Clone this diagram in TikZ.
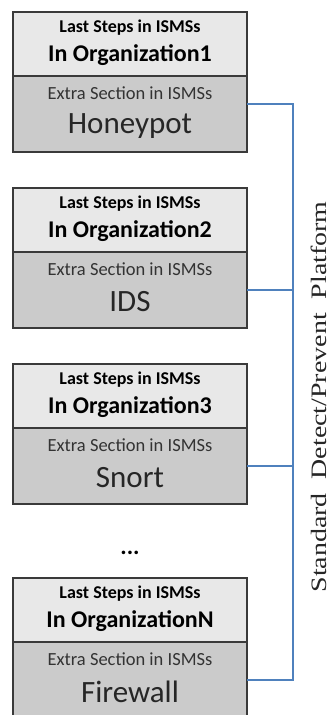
\documentclass[tikz,border=0pt]{standalone}
\usepackage{fontspec}
\setmainfont{Carlito}
\newfontfamily\platformfont{Liberation Serif}
\usetikzlibrary{positioning}

\definecolor{boxline}{HTML}{3A3A3A}
\definecolor{topgray}{HTML}{E8E8E8}
\definecolor{lowgray}{HTML}{CBCBCB}
\definecolor{railblue}{HTML}{4F81BD}

\begin{document}
\begin{tikzpicture}
		[x=1pt, y=-1pt,
		orgbox/.style={rectangle, draw=boxline, line width=1.4pt, fill=topgray, minimum width=234pt, minimum height=64pt, inner sep=0pt, outer sep=0pt},
		extbox/.style={orgbox, fill=lowgray, minimum height=76pt},
		steptext/.style={font=\fontsize{18}{20}\selectfont\bfseries},
		orgtext/.style={font=\fontsize{24}{26}\selectfont\bfseries},
		sectext/.style={font=\fontsize{18.5}{20}\selectfont, text=black!80},
		tooltext/.style={font=\fontsize{31}{33}\selectfont, text=black!85},
		link/.style={draw=railblue, line width=1.2pt}]
		\useasboundingbox (0,0) rectangle (332,715);

		\node[orgbox] (org1) at (130,44) {};
		\node[extbox, below=0pt of org1] (ext1) {};
		\node[orgbox, below=36pt of ext1] (org2) {};
		\node[extbox, below=0pt of org2] (ext2) {};
		\node[orgbox, below=36pt of ext2] (org3) {};
		\node[extbox, below=0pt of org3] (ext3) {};
		\node[orgbox, below=74pt of ext3] (org4) {};
		\node[extbox, below=0pt of org4] (ext4) {};

		\node[steptext] (last1) at ([yshift=-16pt]org1.north) {Last Steps in ISMSs};
		\node[orgtext] (name1) at ([yshift=-43pt]org1.north) {In Organization1};
		\node[sectext] (extra1) at ([yshift=-17pt]ext1.north) {Extra Section in ISMSs};
		\node[tooltext] (tool1) at ([yshift=-50pt]ext1.north) {Honeypot};

		\node[steptext] (last2) at ([yshift=-16pt]org2.north) {Last Steps in ISMSs};
		\node[orgtext] (name2) at ([yshift=-43pt]org2.north) {In Organization2};
		\node[sectext] (extra2) at ([yshift=-17pt]ext2.north) {Extra Section in ISMSs};
		\node[tooltext] (tool2) at ([yshift=-50pt]ext2.north) {IDS};

		\node[steptext] (last3) at ([yshift=-16pt]org3.north) {Last Steps in ISMSs};
		\node[orgtext] (name3) at ([yshift=-43pt]org3.north) {In Organization3};
		\node[sectext] (extra3) at ([yshift=-17pt]ext3.north) {Extra Section in ISMSs};
		\node[tooltext] (tool3) at ([yshift=-50pt]ext3.north) {Snort};

		\node[steptext] (last4) at ([yshift=-16pt]org4.north) {Last Steps in ISMSs};
		\node[orgtext] (name4) at ([yshift=-43pt]org4.north) {In OrganizationN};
		\node[sectext] (extra4) at ([yshift=-17pt]ext4.north) {Extra Section in ISMSs};
		\node[tooltext] (tool4) at ([yshift=-50pt]ext4.north) {Firewall};

		\node[font=\fontsize{24}{24}\selectfont\bfseries] (dots) at (130,553) {...};

		% common platform rail on the right
		\coordinate (rail) at (293,400);
		\draw[link] ([yshift=10pt]ext1.east) -| (rail) |- (ext4.east);
		\draw[link] (ext2.east) -- (ext2.east -| rail);
		\draw[link] (ext3.east) -- (ext3.east -| rail);

		\node[rotate=90, xscale=1.27, inner sep=0pt, font=\platformfont\fontsize{22}{22}\selectfont, text=black!85] (platform) at (319,397) {Standard\hspace{0.25em} Detect/Prevent\hspace{0.25em} Platform};
	\end{tikzpicture}
\end{document}
